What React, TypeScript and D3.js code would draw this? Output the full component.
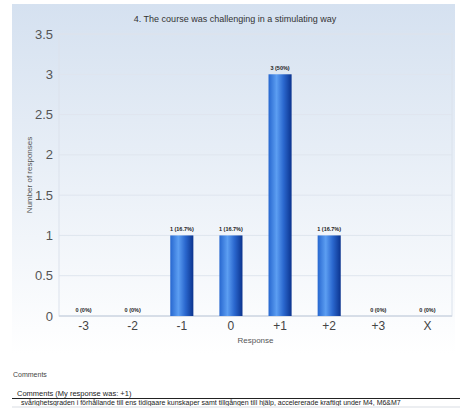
import * as d3 from "d3"

const categories = ["-3", "-2", "-1", "0", "+1", "+2", "+3", "X"]
const counts = [0, 0, 1, 1, 3, 1, 0, 0]
const percents = ["0%", "0%", "16.7%", "16.7%", "50%", "16.7%", "0%", "0%"]
const yTicks = [0, 0.5, 1, 1.5, 2, 2.5, 3, 3.5]

const title = "4. The course was challenging in a stimulating way"
const commentHeader = "Comments (My response was: +1)"
const commentText =
  "svårighetsgraden i förhållande till ens tidigaare kunskaper samt tillgången till hjälp, accelererade kraftigt under M4, M6&M7"

const W = 460
const H = 408
const font = "Liberation Sans, Arial, sans-serif"

export default function App() {
  const left = 59
  const right = 452
  const top = 34
  const bottom = 316

  const x = d3.scaleBand<string>().domain(categories).range([left, right]).paddingInner(0.53).paddingOuter(0.265)
  const y = d3.scaleLinear().domain([0, 3.5]).range([bottom, top])

  return (
    <svg width={W} height={H} style={{ position: "absolute", left: 0, top: 0 }} fontFamily={font}>
      <defs>
        <linearGradient id="bg" x1="0" y1="0" x2="0" y2="1">
          <stop offset="0%" stopColor="#d5e1f0" />
          <stop offset="100%" stopColor="#ffffff" />
        </linearGradient>
        <linearGradient id="bar" x1="0" y1="0" x2="1" y2="0">
          <stop offset="0%" stopColor="#2767cf" />
          <stop offset="35%" stopColor="#5c9ef2" />
          <stop offset="65%" stopColor="#2b68cf" />
          <stop offset="100%" stopColor="#0b338e" />
        </linearGradient>
      </defs>

      <rect x={12} y={4} width={443} height={350} fill="url(#bg)" />

      <text x={235} y={22} textAnchor="middle" fontSize={9} fill="#333">
        {title}
      </text>

      {/* grid */}
      {yTicks.map((t) => (
        <g key={t}>
          <line x1={left} x2={right} y1={y(t)} y2={y(t)} stroke="#dfe5ee" strokeWidth={1} />
          <text x={53} y={y(t)} dy="0.35em" textAnchor="end" fontSize={13} fill="#555">
            {t}
          </text>
        </g>
      ))}
      <rect x={left} y={top} width={right - left} height={bottom - top} fill="none" stroke="#dbe2ec" />
      <line x1={left} x2={right} y1={bottom} y2={bottom} stroke="#c9d2de" />

      {/* bars */}
      {categories.map((c, i) => {
        const bx = x(c) as number
        const by = y(counts[i])
        return (
          <g key={c}>
            {counts[i] > 0 && (
              <rect x={bx} y={by} width={x.bandwidth()} height={bottom - by} fill="url(#bar)" />
            )}
            <text
              x={bx + x.bandwidth() / 2}
              y={by - 4}
              textAnchor="middle"
              fontSize={5.5}
              fontWeight="bold"
              fill="#222"
            >
              {`${counts[i]} (${percents[i]})`}
            </text>
            <text x={bx + x.bandwidth() / 2} y={330} textAnchor="middle" fontSize={12} fill="#444">
              {c}
            </text>
          </g>
        )
      })}

      <text x={(left + right) / 2} y={343} textAnchor="middle" fontSize={8} fill="#555">
        Response
      </text>
      <text
        transform={`translate(32, ${(top + bottom) / 2}) rotate(-90)`}
        textAnchor="middle"
        fontSize={8}
        fill="#555"
      >
        Number of responses
      </text>

      {/* comments */}
      <text x={13} y={377} fontSize={7} fill="#444">
        Comments
      </text>
      <text x={17} y={396} fontSize={7.5} fill="#222">
        {commentHeader}
      </text>
      <line x1={12} x2={460} y1={398.5} y2={398.5} stroke="#222" strokeWidth={1.2} />
      <text x={21} y={405} fontSize={7} fill="#222">
        {commentText}
      </text>
      <rect x={12} y={406} width={448} height={2} fill="#eceef1" />
    </svg>
  )
}
